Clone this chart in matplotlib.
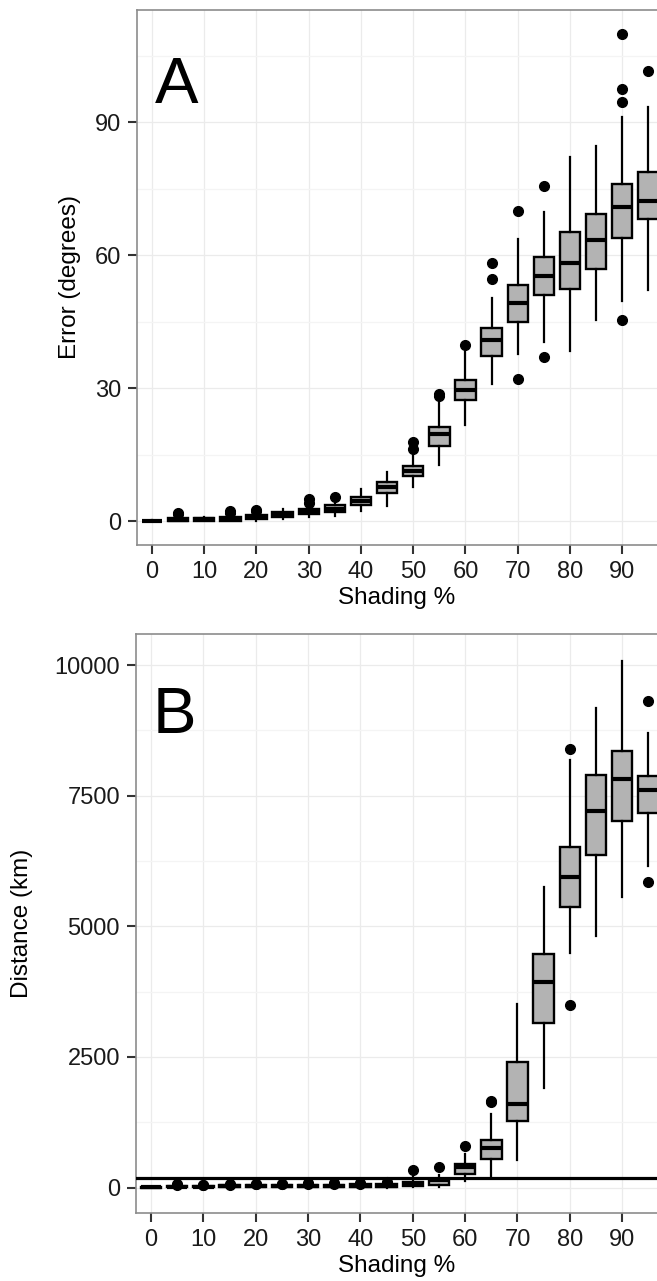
import numpy as np
import matplotlib.pyplot as plt
from matplotlib.ticker import MultipleLocator

plt.rcParams['font.family'] = ['Liberation Sans', 'DejaVu Sans']

# Shading levels (%)
shading = [0, 5, 10, 15, 20, 25, 30, 35, 40, 45, 50, 55, 60, 65, 70, 75, 80, 85, 90, 95]

# Panel A: error (degrees)
a_q1 = [0.0, 0.1, 0.2, 0.1, 0.45, 1.0, 1.6, 2.2, 3.7, 6.3, 10.2, 17.0, 27.3, 37.3, 45.0, 51.0, 52.5, 56.9, 63.8, 68.1]
a_med = [0.05, 0.3, 0.5, 0.5, 0.9, 1.6, 2.1, 2.9, 4.6, 7.7, 11.3, 19.7, 29.6, 40.8, 49.2, 55.4, 58.3, 63.4, 70.9, 72.3]
a_q3 = [0.15, 0.7, 0.8, 0.9, 1.4, 2.2, 2.7, 3.7, 5.6, 8.8, 12.5, 21.3, 31.9, 43.7, 53.3, 59.7, 65.2, 69.2, 76.1, 78.7]
a_lo = [0.0, 0.0, 0.1, 0.0, 0.2, 0.6, 0.9, 1.2, 2.3, 3.5, 7.7, 12.7, 21.7, 30.9, 37.7, 40.4, 38.4, 45.5, 49.7, 52.2]
a_hi = [0.3, 1.2, 1.0, 1.4, 1.9, 2.9, 3.4, 4.4, 7.4, 11.2, 15.3, 27.3, 38.2, 50.4, 63.7, 69.7, 82.1, 84.6, 91.2, 93.5]
a_out = [[], [1.6, 2.0], [], [1.9, 2.3], [2.3, 2.6], [], [4.2, 5.0], [5.6], [], [],
         [16.3, 17.8], [28.2, 28.7], [39.8], [54.6, 58.2], [32.0, 70.0], [37.1, 75.6],
         [], [], [45.3, 94.5, 97.6, 109.8], [101.6]]

# Panel B: distance (km)
b_q1 = [0, 5, 5, 8, 10, 10, 10, 10, 12, 15, 25, 44, 268, 542, 1270, 3154, 5365, 6367, 7024, 7171]
b_med = [3, 15, 15, 20, 25, 25, 28, 30, 30, 35, 77, 153, 395, 747, 1596, 3940, 5940, 7197, 7810, 7612]
b_q3 = [8, 30, 30, 40, 45, 45, 50, 55, 60, 70, 107, 172, 446, 906, 2407, 4464, 6514, 7887, 8354, 7867]
b_lo = [0, 0, 0, 0, 0, 0, 0, 0, 0, 0, 12, 12, 127, 203, 536, 1897, 4483, 4815, 5556, 6150]
b_hi = [15, 30, 30, 45, 50, 50, 55, 60, 65, 150, 203, 236, 651, 1404, 3506, 5748, 8174, 9184, 10078, 8704]
b_out = [[], [45, 60], [40, 55], [55, 70], [60, 75], [65, 75], [65, 80], [70, 85], [75, 90], [100],
         [345], [395], [791], [1630, 1660], [], [], [3493, 8385], [], [], [5844, 9304]]
b_ref = 190  # reference line (km)


def stats(q1, med, q3, lo, hi, out):
    return [dict(q1=a, med=m, q3=b, whislo=l, whishi=h, fliers=f)
            for a, m, b, l, h, f in zip(q1, med, q3, lo, hi, out)]


def style_axis(ax, ylim, ymajor, ylabel, letter, letter_xy, ylab_x):
    ax.set_xlim(-2.87, 96.65)
    ax.set_ylim(*ylim)
    ax.yaxis.set_major_locator(MultipleLocator(ymajor))
    ax.yaxis.set_minor_locator(MultipleLocator(ymajor / 2))
    ax.set_xticks(range(0, 100, 10))
    ax.set_xticklabels([str(v) for v in range(0, 100, 10)])
    ax.grid(True, which='major', color='#EBEBEB', lw=0.9, zorder=0)
    ax.grid(True, which='minor', axis='y', color='#F4F4F4', lw=0.9, zorder=0)
    ax.set_axisbelow(True)
    for s in ax.spines.values():
        s.set_color('#8C8C8C')
        s.set_linewidth(1.2)
    ax.spines['right'].set_visible(False)
    ax.tick_params(which='major', length=6.5, width=1.5, color='#333333',
                   labelsize=17, pad=5, labelcolor='#1A1A1A')
    ax.tick_params(which='minor', length=0)
    ax.set_xlabel('Shading %', fontsize=17.5, labelpad=3)
    ax.set_ylabel(ylabel, fontsize=17.5)
    ax.yaxis.set_label_coords(ylab_x, 0.5)
    ax.yaxis.label.set_va('center')
    ax.text(letter_xy[0], letter_xy[1], letter, fontsize=47, ha='left', va='baseline')


def draw_boxes(ax, st):
    ax.bxp(st, positions=shading, widths=3.9, showcaps=False, patch_artist=True,
           boxprops=dict(facecolor='#B3B3B3', edgecolor='black', linewidth=1.7),
           medianprops=dict(color='black', linewidth=3.0),
           whiskerprops=dict(color='black', linewidth=1.6),
           flierprops=dict(marker='o', markerfacecolor='black', markeredgecolor='black',
                           markersize=7), manage_ticks=False)


fig = plt.figure(figsize=(6.57, 12.81), dpi=100)
ax1 = fig.add_axes([0.2085, 0.5746, 0.7915, 0.4176])
ax2 = fig.add_axes([0.2070, 0.0531, 0.7930, 0.5051 - 0.0531])

draw_boxes(ax1, stats(a_q1, a_med, a_q3, a_lo, a_hi, a_out))
style_axis(ax1, (-5.3, 115.3), 30, 'Error (degrees)', 'A', (0.5, 94.4), -0.128)

draw_boxes(ax2, stats(b_q1, b_med, b_q3, b_lo, b_hi, b_out))
ax2.axhline(b_ref, color='black', lw=2.3, zorder=5)
style_axis(ax2, (-487, 10594), 2500, 'Distance (km)', 'B', (0.3, 8700), -0.219)

fig.savefig('out.png', dpi=100)
